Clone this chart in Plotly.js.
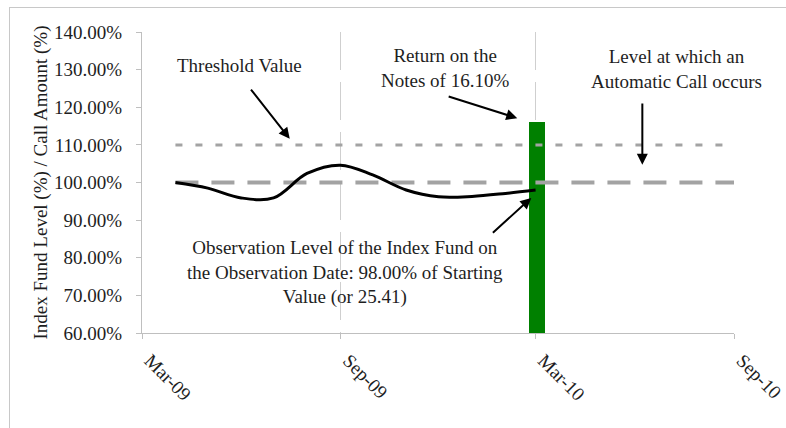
<!DOCTYPE html>
<html>
<head>
<meta charset="utf-8">
<script src="https://cdn.plot.ly/plotly-3.0.1.min.js"></script>
<style>
  html, body { margin: 0; padding: 0; background: #fff; }
  #wrap { position: relative; width: 786px; height: 428px; }
  #chart { width: 786px; height: 428px; }
  #frame { position: absolute; left: 9px; top: 7px; right: 0; bottom: 0;
           border-left: 1px solid #c8c8c8; border-top: 1px solid #c8c8c8;
           pointer-events: none; }
</style>
</head>
<body>
<div id="wrap">
  <div id="chart"></div>
  <div id="frame"></div>
</div>
<script>
// ---- data ----
const indexDates = ['2009-04-01','2009-05-01','2009-06-01','2009-07-01','2009-08-01','2009-09-01',
                    '2009-10-01','2009-11-01','2009-12-01','2010-01-01','2010-02-01','2010-03-01'];
const indexLevel = [100.0, 98.5, 95.9, 95.9, 102.4, 104.6, 102.0, 98.0, 96.2, 96.3, 97.1, 98.0];

const levelDates = ['2009-04-01','2010-09-01'];
const thresholdLevel = [110, 110];
const callLevel = [100, 100];

const returnDate = ['2010-03-02'];
const returnLevel = [116.1];

const xTickVals = ['2009-03-01','2009-09-01','2010-03-01','2010-09-01'];
const xTickText = ['Mar-09','Sep-09','Mar-10','Sep-10'];
const yTickVals = [60, 70, 80, 90, 100, 110, 120, 130, 140];
const yTickText = ['60.00%','70.00%','80.00%','90.00%','100.00%','110.00%','120.00%','130.00%','140.00%'];

const FONT = 'Liberation Serif, Times New Roman, serif';
const TXT = '#1e1e1e';
const DAY = 86400000;
const FS = 19;

const traces = [
  { type: 'bar', x: returnDate, y: returnLevel, width: [14.6 * DAY],
    marker: { color: '#008000', line: { width: 0 } }, hoverinfo: 'skip' },
  { type: 'scatter', mode: 'lines', x: levelDates, y: thresholdLevel,
    line: { color: '#a3a3a3', width: 3, dash: '7px,13px' }, hoverinfo: 'skip' },
  { type: 'scatter', mode: 'lines', x: levelDates, y: callLevel,
    line: { color: '#a3a3a3', width: 4, dash: '23px,13px' }, hoverinfo: 'skip' },
  { type: 'scatter', mode: 'lines', x: indexDates, y: indexLevel,
    line: { color: '#000000', width: 3, shape: 'spline', smoothing: 1 }, hoverinfo: 'skip' }
];

function arrow(xh, yh, xt, yt) {
  return { x: xh, y: yh, ax: xt, ay: yt, xref: 'x', yref: 'y', axref: 'x', ayref: 'y',
           text: '', showarrow: true, arrowhead: 2, arrowsize: 1.1, arrowwidth: 2, arrowcolor: '#000' };
}
function label(x, y, text) {
  return { x: x, y: y, xref: 'x', yref: 'y', text: text, showarrow: false,
           xanchor: 'center', yanchor: 'middle', align: 'center',
           font: { family: FONT, size: FS, color: TXT } };
}

const layout = {
  width: 786, height: 428,
  margin: { l: 142, r: 52, t: 32, b: 95 },
  paper_bgcolor: '#fff', plot_bgcolor: '#fff',
  showlegend: false,
  bargap: 0,
  font: { family: FONT, size: FS, color: TXT },
  xaxis: {
    type: 'date',
    range: ['2009-03-01', '2010-09-01'],
    tickmode: 'array', tickvals: xTickVals, ticktext: xTickText,
    tickangle: 45,
    tickfont: { family: FONT, size: FS, color: TXT },
    ticklabelshift: 8, ticklabelstandoff: 3,
    showgrid: true, gridcolor: '#cfcfcf', gridwidth: 1, griddash: '38px,12px',
    showline: true, linecolor: '#bfbfbf', linewidth: 1,
    ticks: 'outside', ticklen: 5, tickcolor: '#bfbfbf',
    zeroline: false, fixedrange: true
  },
  yaxis: {
    range: [60, 140],
    tickmode: 'array', tickvals: yTickVals, ticktext: yTickText,
    tickfont: { family: FONT, size: FS, color: TXT },
    showgrid: false,
    showline: true, linecolor: '#bfbfbf', linewidth: 1,
    ticks: 'outside', ticklen: 5, tickcolor: '#bfbfbf',
    ticklabelstandoff: 10,
    zeroline: false, fixedrange: true,
    title: { text: 'Index Fund Level (%) / Call Amount (%)',
             font: { family: FONT, size: FS, color: TXT }, standoff: 1 }
  },
  annotations: [
    label('2009-05-30', 131.2, 'Threshold Value'),
    arrow('2009-07-16', 111.6, '2009-06-09', 125.1),
    label('2009-12-07', 130.4, 'Return on the<br>Notes of 16.10%'),
    arrow('2010-02-12', 117.1, '2009-12-09', 123.0),
    label('2010-07-10', 130.2, 'Level at which an<br>Automatic Call occurs'),
    arrow('2010-06-08', 104.7, '2010-06-08', 121.4),
    label('2009-09-05', 76.2, 'Observation Level of the Index Fund on<br>the Observation Date: 98.00% of Starting<br>Value (or 25.41)'),
    arrow('2010-02-25', 95.9, '2010-01-19', 86.3)
  ]
};

Plotly.newPlot('chart', traces, layout, { staticPlot: true, displayModeBar: false });
</script>
</body>
</html>
